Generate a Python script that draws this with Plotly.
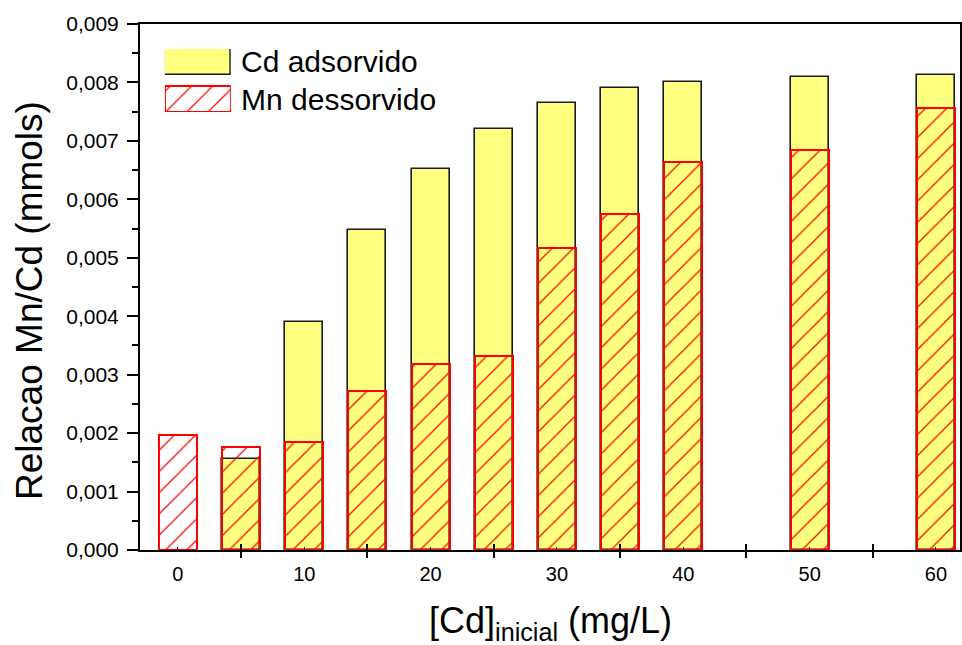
import plotly.graph_objects as go

# Initial Cd concentration (mg/L)
conc = [0, 5, 10, 15, 20, 25, 30, 35, 40, 50, 60]
# Cd adsorbed (mmols); no Cd at the blank point
cd_adsorvido = [None, 0.00156, 0.00390, 0.00548, 0.00652, 0.00720,
                0.00765, 0.00790, 0.00800, 0.00810, 0.00812]
# Mn desorbed (mmols)
mn_dessorvido = [0.00196, 0.00177, 0.00184, 0.00272, 0.00318, 0.00332,
                 0.00517, 0.00575, 0.00664, 0.00684, 0.00756]

x_labels = [0, 10, 20, 30, 40, 50, 60]
x_cross_ticks = [5, 15, 25, 35, 45, 55]
y_ticks = [i / 1000 for i in range(10)]
y_labels = ["0,{:03d}".format(i) for i in range(10)]

legend_names = ["Cd adsorvido", "Mn dessorvido"]

FONT = "Arial, Liberation Sans, sans-serif"
YELLOW = "#FFFF80"
RED = "#FF0000"
BAR_W = 3.0

yellow_marker = dict(color=YELLOW, line=dict(color="#1a1a1a", width=1.6))
hatch_marker = dict(
    color="rgba(0,0,0,0)",
    line=dict(color=RED, width=2),
    pattern=dict(shape="/", fgcolor=RED, bgcolor="rgba(0,0,0,0)",
                 size=15, solidity=0.08, fillmode="replace"),
)

fig = go.Figure()

fig.add_trace(go.Bar(x=conc, y=cd_adsorvido, width=BAR_W, marker=yellow_marker,
                     name=legend_names[0], showlegend=False))
fig.add_trace(go.Bar(x=conc, y=mn_dessorvido, width=BAR_W, marker=hatch_marker,
                     name=legend_names[1], showlegend=False))

# Legend key: two horizontal swatches on a small hidden subplot
fig.add_trace(go.Bar(x=[1], y=[1], base=0, orientation="h", width=0.703,
                     marker=yellow_marker, xaxis="x3", yaxis="y3",
                     showlegend=False, hoverinfo="skip"))
fig.add_trace(go.Bar(x=[1], y=[0], base=0, orientation="h", width=0.703,
                     marker=hatch_marker, xaxis="x3", yaxis="y3",
                     showlegend=False, hoverinfo="skip"))

x_range = [-3.0, 61.9]

fig.update_layout(
    width=962, height=645,
    margin=dict(l=140, r=0, t=24, b=95),
    paper_bgcolor="white", plot_bgcolor="white",
    barmode="overlay", bargap=0,
    font=dict(family=FONT, color="black"),
    xaxis=dict(
        range=x_range, showgrid=False, zeroline=False,
        showline=True, linecolor="black", linewidth=2, mirror=True,
        tickmode="array", tickvals=x_labels, ticktext=[str(v) for v in x_labels],
        ticks="inside", ticklen=3, tickwidth=1, tickcolor="black",
        tickfont=dict(size=20, family=FONT), ticklabelstandoff=5,
        minor=dict(tickmode="array", tickvals=x_cross_ticks, ticks="outside",
                   ticklen=6, tickwidth=2, tickcolor="black"),
    ),
    xaxis2=dict(
        range=x_range, overlaying="x", anchor="y", side="bottom",
        showgrid=False, zeroline=False, showline=False,
        tickmode="array", tickvals=x_cross_ticks, showticklabels=False,
        ticks="inside", ticklen=6, tickwidth=2, tickcolor="black",
    ),
    yaxis=dict(
        range=[0, 0.009], showgrid=False, zeroline=False,
        showline=True, linecolor="black", linewidth=2, mirror=True,
        tickmode="array", tickvals=y_ticks, ticktext=y_labels,
        ticks="outside", ticklen=11, tickwidth=2, tickcolor="black",
        tickfont=dict(size=21, family=FONT), ticklabelstandoff=4,
        minor=dict(dtick=0.0005, ticks="outside", ticklen=6, tickwidth=2,
                   tickcolor="black"),
    ),
    xaxis3=dict(domain=[0.0304, 0.1107], range=[0, 1], anchor="y3",
                visible=False, fixedrange=True),
    yaxis3=dict(domain=[0.8327, 0.9525], range=[-0.3514, 1.3514], anchor="x3",
                visible=False, fixedrange=True),
)

# Empty trace on the overlay axis so its ticks are drawn
fig.add_trace(go.Scatter(x=[None], y=[None], xaxis="x2", yaxis="y",
                         showlegend=False, hoverinfo="skip"))

annotations = [
    dict(text=legend_names[0], x=0.1205, y=0.9278, xref="paper", yref="paper",
         xanchor="left", yanchor="middle", showarrow=False,
         font=dict(size=30, family=FONT)),
    dict(text=legend_names[1], x=0.1205, y=0.8574, xref="paper", yref="paper",
         xanchor="left", yanchor="middle", showarrow=False,
         font=dict(size=30, family=FONT)),
    dict(text="Relacao Mn/Cd (mmols)", x=-0.135, y=0.474, xref="paper", yref="paper",
         xanchor="center", yanchor="middle", textangle=-90, showarrow=False,
         font=dict(size=37, family=FONT)),
    dict(text="[Cd]<sub>inicial</sub> (mg/L)", x=0.501, y=-0.092, xref="paper",
         yref="paper", xanchor="center", yanchor="top", showarrow=False,
         font=dict(size=36, family=FONT)),
]
fig.update_layout(annotations=annotations)

fig.write_html("out.html")
